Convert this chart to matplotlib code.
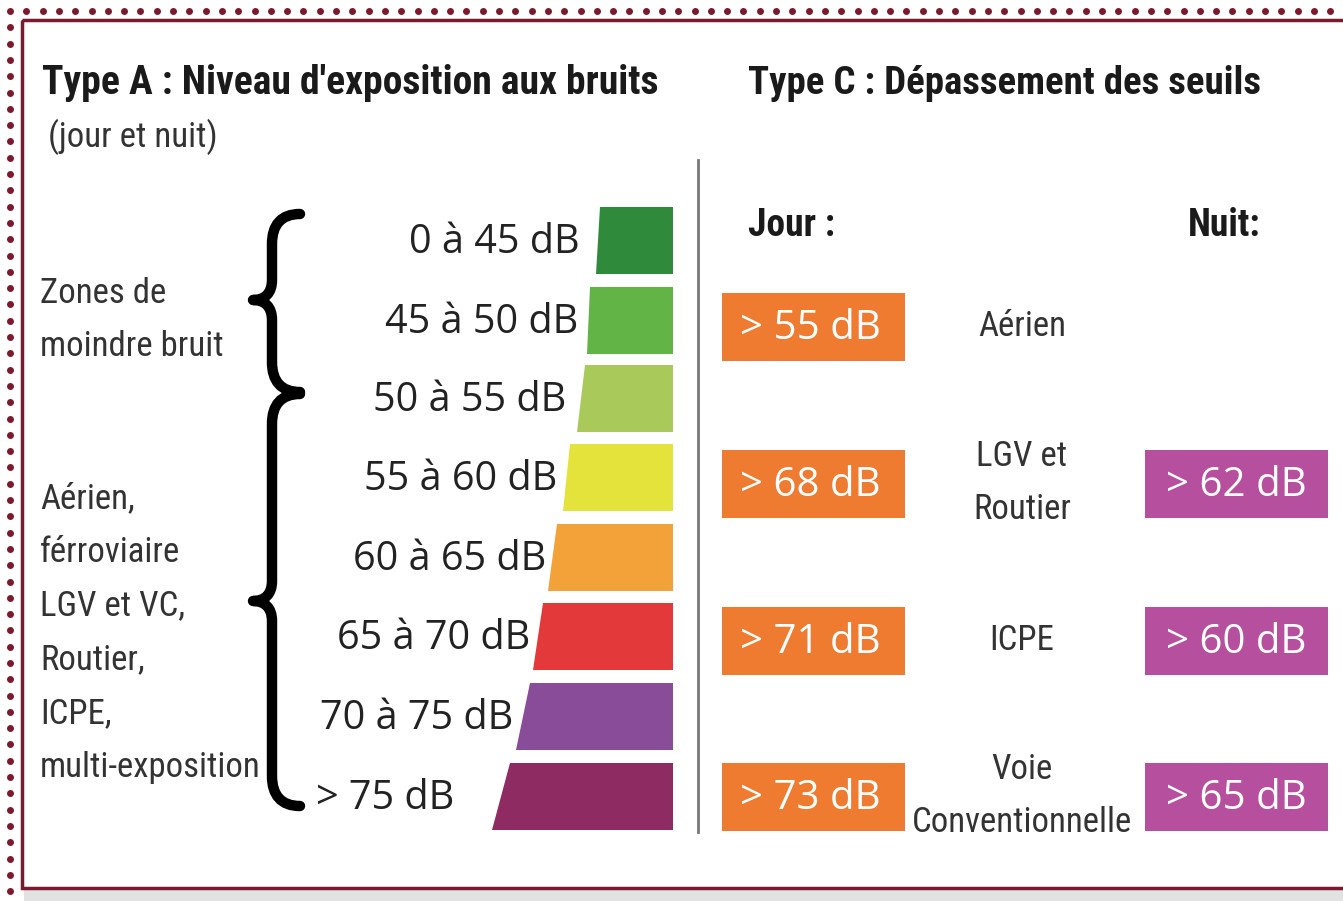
import matplotlib.pyplot as plt
from matplotlib.patches import Polygon, Rectangle
from matplotlib.path import Path
from matplotlib.patches import PathPatch
from matplotlib import font_manager

# Data
ranges = ['0 à 45 dB', '45 à 50 dB', '50 à 55 dB', '55 à 60 dB',
          '60 à 65 dB', '65 à 70 dB', '70 à 75 dB', '> 75 dB']
range_colors = ['#2f8a3c', '#62b446', '#a9c95b', '#e3e33b',
                '#f3a23a', '#e4393a', '#884c98', '#8e2b62']
sources = ['Aérien', 'LGV et\nRoutier', 'ICPE', 'Voie\nConventionnelle']
jour = ['> 55 dB', '> 68 dB', '> 71 dB', '> 73 dB']
nuit = [None, '> 62 dB', '> 60 dB', '> 65 dB']

names = {f.name for f in font_manager.fontManager.ttflist}
cond = [n for n in ['Roboto Condensed', 'Liberation Sans Narrow', 'DejaVu Sans Condensed'] if n in names]
COND = cond + ['DejaVu Sans']
SANS = ['Open Sans', 'DejaVu Sans']

fig = plt.figure(figsize=(13.43, 9.01), dpi=100)
ax = fig.add_axes([0, 0, 1, 1])
ax.set_xlim(0, 1343)
ax.set_ylim(901, 0)
ax.axis('off')

maroon = '#7a1a2c'
# dotted outer frame
step = 16.3
x = 10.0
while x < 1343:
    ax.plot(x, 11, 'o', color=maroon, ms=5, mec='none')
    x += step
y = 11 + step
while y < 901:
    ax.plot(10, y, 'o', color=maroon, ms=5, mec='none')
    y += step

# shadow and solid frame
ax.add_patch(Rectangle((24, 889), 1330, 12, color='#e2e2e2', lw=0))
ax.add_patch(Rectangle((22, 20), 1340, 868, fill=False, ec=maroon, lw=2.5))

# headings
ax.text(42, 83, "Type A : Niveau d'exposition aux bruits", family=COND, fontweight='bold',
        fontsize=28.5, va='center', ha='left', color='#1a1a1a')
ax.text(48, 137, "(jour et nuit)", family=COND, fontsize=25, va='center', ha='left', color='#333333')
ax.text(748, 83, "Type C : Dépassement des seuils", family=COND, fontweight='bold',
        fontsize=28, va='center', ha='left', color='#1a1a1a')

# trapezoid bars
tops = [207, 287, 365, 444, 524, 603, 683, 763]
h = 67
lt = [600, 590, 585, 570, 557, 543, 530, 510]
lb = [596, 587, 577, 563, 548, 533, 516, 492]
lab_x = [580, 578, 566, 557, 546, 530, 513, 316]
right = 673
for i, (lab, col) in enumerate(zip(ranges, range_colors)):
    y0 = tops[i]
    ax.add_patch(Polygon([(lt[i], y0), (right, y0), (right, y0 + h), (lb[i], y0 + h)],
                         closed=True, color=col, lw=0))
    if lab.startswith('>'):
        ax.text(lab_x[i], y0 + h / 2 + 2, lab, family=SANS, fontsize=28.5, va='center', ha='left',
                color='#222222')
    else:
        ax.text(lab_x[i], y0 + h / 2 + 2, lab, family=SANS, fontsize=28.5, va='center',
                ha='right', color='#222222')

# left labels
ax.text(40, 320, "Zones de\nmoindre bruit", family=COND, fontsize=25, va='center', ha='left',
        color='#333333', linespacing=1.8)
ax.text(40, 633, "Aérien,\nférroviaire\nLGV et VC,\nRoutier,\nICPE,\nmulti-exposition",
        family=COND, fontsize=25, va='center', ha='left', color='#333333', linespacing=1.8)

# braces
def brace(y_top, y_mid, y_bot):
    verts = [(300, y_top), (281, y_top), (272, y_top + 11), (272, y_top + 30),
             (272, y_mid - 20),
             (272, y_mid - 7), (265, y_mid), (253, y_mid),
             (265, y_mid), (272, y_mid + 7), (272, y_mid + 20),
             (272, y_bot - 30),
             (272, y_bot - 11), (281, y_bot), (300, y_bot)]
    codes = [Path.MOVETO, Path.CURVE4, Path.CURVE4, Path.CURVE4, Path.LINETO,
             Path.CURVE4, Path.CURVE4, Path.CURVE4,
             Path.CURVE4, Path.CURVE4, Path.CURVE4, Path.LINETO,
             Path.CURVE4, Path.CURVE4, Path.CURVE4]
    ax.add_patch(PathPatch(Path(verts, codes), fill=False, ec='black', lw=7.5,
                           capstyle='round', joinstyle='round'))

brace(214, 300, 392)
brace(394, 601, 806)

# separator
ax.plot([698, 698], [160, 832], color='#777777', lw=2)

# Type C
ax.text(748, 226, "Jour :", family=COND, fontweight='bold', fontsize=27, va='center', ha='left',
        color='#1a1a1a')
ax.text(1188, 226, "Nuit:", family=COND, fontweight='bold', fontsize=27, va='center', ha='left',
        color='#1a1a1a')
rows = [293, 450, 607, 763]
for y0, src, j, n in zip(rows, sources, jour, nuit):
    ax.add_patch(Rectangle((722, y0), 183, 68, color='#ee7b30', lw=0))
    ax.text(810, y0 + 36, j, family=SANS, fontsize=29, va='center', ha='center', color='white')
    if n is not None:
        ax.add_patch(Rectangle((1145, y0), 183, 68, color='#b64f9d', lw=0))
        ax.text(1236, y0 + 36, n, family=SANS, fontsize=29, va='center', ha='center',
                color='white')
    ax.text(1022, y0 + 33, src, family=COND, fontsize=25, va='center', ha='center',
            color='#333333', linespacing=1.8)

fig.savefig('out.png', dpi=100, facecolor='white')
